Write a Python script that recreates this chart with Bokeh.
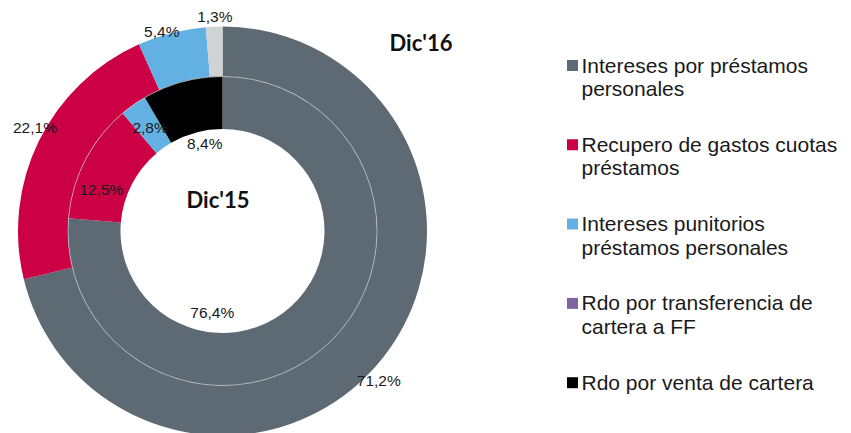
import math
from bokeh.plotting import figure
from bokeh.models import Range1d
from bokeh.core.properties import value
from bokeh.embed import file_html
from bokeh.resources import INLINE

# ---------------- data ----------------
categories = [
    "Intereses por préstamos personales",
    "Recupero de gastos cuotas préstamos",
    "Intereses punitorios préstamos personales",
    "Rdo por transferencia de cartera a FF",
    "Rdo por venta de cartera",
    "Otros",
]
legend_lines = [
    ["Intereses por préstamos", "personales"],
    ["Recupero de gastos cuotas", "préstamos"],
    ["Intereses punitorios", "préstamos personales"],
    ["Rdo por transferencia de", "cartera a FF"],
    ["Rdo por venta de cartera"],
]
dic16 = [71.2, 22.1, 5.4, 0.0, 0.0, 1.3]   # outer ring
dic15 = [76.4, 12.5, 2.8, 0.0, 8.4, 0.0]   # inner ring
ring_titles = ["Dic'16", "Dic'15"]

# ---------------- style / layout ----------------
colors = ["#5E6A73", "#CC0044", "#63B1E3", "#8064A2", "#000000", "#D0D3D4"]
W, H = 851, 433
PAGE_H = 433
CX, CY = 222, PAGE_H - 230.5
R_HOLE, R_MID, R_OUT = 102, 154.5, 204.5
# label placement tweaks (angle shift in degrees, radius in px)
outer_lab = [(5.5, 216), (2.7, 214), (-2.5, 209), (0, 0), (0, 0), (0.3, 215)]
inner_lab = [(49.8, 82), (-8.4, 128), (0.3, 126.5), (0, 0), (3.6, 89), (0, 0)]

p = figure(width=W, height=H, output_backend="svg", toolbar_location=None,
           x_range=Range1d(0, W), y_range=Range1d(PAGE_H - H, PAGE_H),
           x_axis_type=None, y_axis_type=None, min_border=0,
           background_fill_color="white", border_fill_color="white")
p.outline_line_color = None
p.grid.visible = False


def fmt(v):
    return ("%.1f%%" % v).replace(".", ",")


def ring(vals, r_in, r_out, labs):
    total = sum(vals)
    cum = 0.0
    lx, ly, lt = [], [], []
    for v, c, (da, lr) in zip(vals, colors, labs):
        if v <= 0:
            continue
        f0 = cum / total
        f1 = (cum + v) / total
        cum += v
        p.annular_wedge(x=CX, y=CY, inner_radius=r_in, outer_radius=r_out,
                        start_angle=math.pi / 2 - 2 * math.pi * f0,
                        end_angle=math.pi / 2 - 2 * math.pi * f1,
                        direction="clock", fill_color=c, line_color=None)
        mid = 360 * (f0 + f1) / 2 + da
        th = math.radians(mid)
        lx.append(CX + lr * math.sin(th))
        ly.append(CY + lr * math.cos(th))
        lt.append(fmt(v))
    return lx, ly, lt


ox, oy, ot = ring(dic16, R_MID, R_OUT, outer_lab)
ix, iy, it = ring(dic15, R_HOLE, R_MID, inner_lab)

# thin light separator between rings
p.circle(x=CX, y=CY, radius=R_MID, fill_color=None, line_color="#C9CED2",
         line_width=0.8, line_alpha=0.8)

p.text(x=ox + ix, y=oy + iy, text=ot + it, text_align="center",
       text_baseline="middle", text_font=value("Liberation Sans"),
       text_font_size="15.5px", text_color="#1a1a1a")

# ring titles
p.text(x=[420.5, 217.5], y=[PAGE_H - 41.5, PAGE_H - 199], text=ring_titles,
       text_align="center", text_baseline="middle", text_font=value("Lato"),
       text_font_style="bold", text_font_size="22px", text_color="#111111")

# legend (manual)
leg_colors = colors[:5]
sq0, txt0, step, lstep = 65, 64.5, 79.3, 23.5
sx, sy, tx, ty, tt = [], [], [], [], []
for i, lines in enumerate(legend_lines):
    sx.append(572)
    sy.append(PAGE_H - (sq0 + i * step))
    b = txt0 + i * step
    for j, line in enumerate(lines):
        tx.append(581)
        ty.append(PAGE_H - (b + j * lstep))
        tt.append(line)
p.scatter(x=sx, y=sy, marker="square", size=11, fill_color=leg_colors,
          line_color=None)
p.text(x=tx, y=ty, text=tt, text_align="left", text_baseline="alphabetic",
       text_font=value("Liberation Sans"), text_font_size="21px",
       text_color="#1a1a1a")

open("out.html", "w").write(file_html(p, INLINE))
